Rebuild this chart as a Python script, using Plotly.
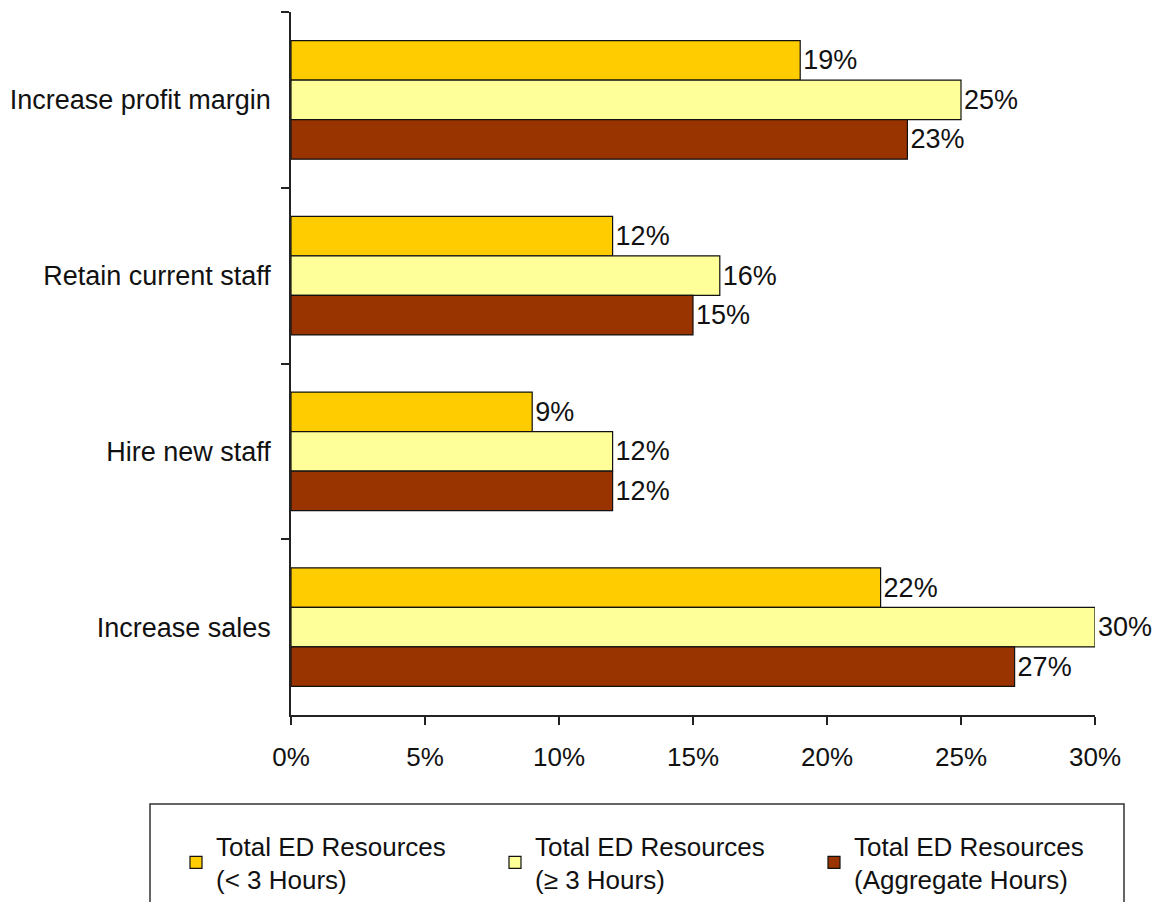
import plotly.graph_objects as go

# Goals, listed top to bottom as shown on the chart
goals = ["Increase profit margin", "Retain current staff", "Hire new staff", "Increase sales"]

# Share of respondents per resource group (%)
under_3h = [19, 12, 9, 22]
over_3h = [25, 16, 12, 30]
aggregate = [23, 15, 12, 27]

series_names = [
    "Total ED Resources<br>(< 3 Hours)",
    "Total ED Resources<br>(≥ 3 Hours)",
    "Total ED Resources<br>(Aggregate Hours)",
]
series_values = [under_3h, over_3h, aggregate]
series_colors = ["#FFCC00", "#FFFF99", "#993300"]

FONT = "Liberation Sans, Arial, sans-serif"
FS = 26

fig = go.Figure()
for name, vals, col in zip(series_names, series_values, series_colors):
    fig.add_trace(go.Bar(
        y=goals,
        x=vals,
        name=name,
        orientation="h",
        marker=dict(color=col, line=dict(color="#111111", width=1.2)),
        text=[f"{v}%" for v in vals],
        textposition="outside",
        textfont=dict(family=FONT, size=FS + 1, color="#111111"),
        cliponaxis=False,
    ))

W, H = 1153, 902
L, R, T, B = 291, 58, 12, 187
pw, ph = W - L - R, H - T - B


def px_x(p):
    return (p - L) / pw


def px_y(p):
    return (H - B - p) / ph


axis_common = dict(
    showgrid=False,
    zeroline=False,
    showline=True,
    linecolor="#222222",
    linewidth=1.5,
    ticks="outside",
    ticklen=8,
    tickwidth=1.5,
    tickcolor="#222222",
    fixedrange=True,
    automargin=False,
)

fig.update_layout(
    width=W,
    height=H,
    margin=dict(l=L, r=R, t=T, b=B, autoexpand=False),
    paper_bgcolor="white",
    plot_bgcolor="white",
    barmode="group",
    bargap=0.325,
    bargroupgap=0,
    font=dict(family=FONT, size=FS, color="#111111"),
    xaxis=dict(
        range=[0, 30],
        tickvals=[0, 5, 10, 15, 20, 25, 30],
        ticktext=["0%", "5%", "10%", "15%", "20%", "25%", "30%"],
        ticklabelstandoff=10,
        tickfont=dict(family=FONT, size=FS, color="#111111"),
        **axis_common,
    ),
    yaxis=dict(
        autorange="reversed",
        categoryorder="array",
        categoryarray=goals,
        tickson="boundaries",
        ticklabelstandoff=13,
        tickfont=dict(family=FONT, size=FS + 1, color="#111111"),
        **axis_common,
    ),
    showlegend=True,
    legend=dict(
        orientation="h",
        x=px_x(176),
        y=px_y(822),
        xanchor="left",
        yanchor="top",
        bgcolor="rgba(0,0,0,0)",
        borderwidth=0,
        font=dict(family=FONT, size=FS, color="#111111"),
        entrywidth=274,
        entrywidthmode="pixels",
        traceorder="normal",
    ),
    shapes=[
        dict(
            type="rect",
            xref="paper", yref="paper",
            x0=px_x(150), x1=px_x(1124),
            y0=px_y(804), y1=px_y(930),
            line=dict(color="#333333", width=1.5),
            fillcolor="rgba(0,0,0,0)",
            layer="below",
        )
    ],
)

fig.write_html("out.html")
